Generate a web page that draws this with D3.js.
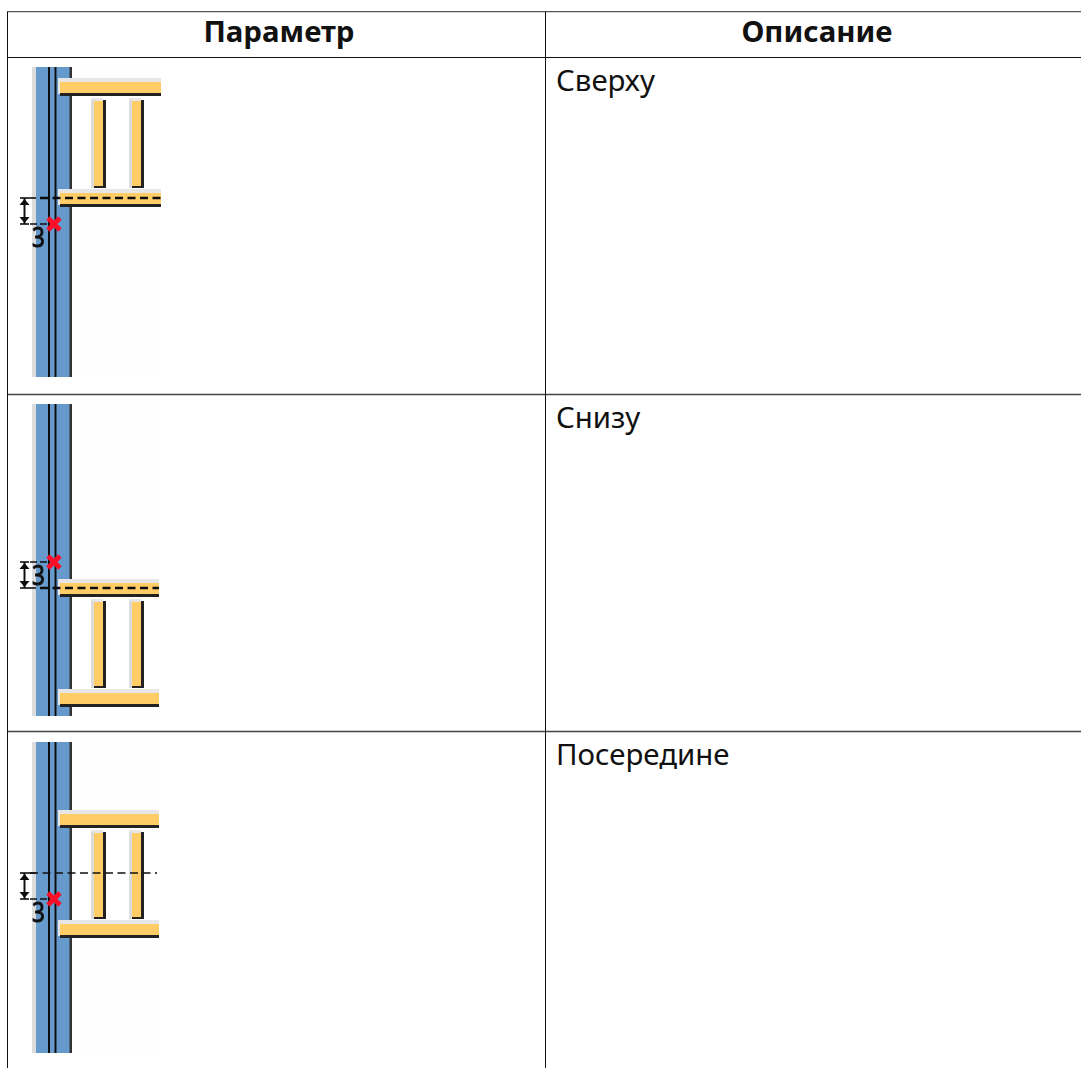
<!DOCTYPE html>
<html>
<head>
<meta charset="utf-8">
<script src="https://d3js.org/d3.v7.min.js"></script>
<style>
html, body { margin: 0; padding: 0; background: #fff; }
svg { display: block; }
text { font-family: "Noto Sans", sans-serif; fill: #111; }
</style>
</head>
<body>
<script>
var headers = ["Параметр", "Описание"];
var rowLabels = ["Сверху", "Снизу", "Посередине"];

// levels, counted from the row's top line
var columnTop = [10, 10, 11];
var columnBottom = [320, 322, 322];
var upperBeam = [25, 189, 83];
var lowerBeam = [136, 299, 193];
var dashLevel = [141, 194, 142];
var markLevel = [167, 168, 168];
var beamEnd = [161, 159, 159];
var dashEnd = [161, 159, 157];
var dashStart = [40, 40, 30];
var dimLabel = ["3", "3", "3"];
var dimLabelLevel = [190, 191, 191];

var width = 1081, height = 1068;
var rowHeight = 337;

var svg = d3.select("body").append("svg")
    .attr("width", width)
    .attr("height", height);

var defs = svg.append("defs");
defs.append("filter").attr("id", "soft")
    .append("feGaussianBlur").attr("stdDeviation", 0.5);

var x = d3.scaleLinear().domain([0, width]).range([0, width]);
var rowScale = d3.scaleBand().domain(d3.range(rowLabels.length))
    .range([57, 57 + rowHeight * rowLabels.length]);

function y(i, v) {
    return rowScale(i) + v;
}

function box(g, x0, x1, y0, y1, fill) {
    g.append("rect")
        .attr("x", x(x0))
        .attr("y", y0)
        .attr("width", x(x1) - x(x0))
        .attr("height", y1 - y0)
        .attr("fill", fill);
}

function hline(g, x0, x1, yy, w, dash) {
    g.append("line")
        .attr("x1", x(x0)).attr("x2", x(x1))
        .attr("y1", yy).attr("y2", yy)
        .attr("stroke", "#111")
        .attr("stroke-width", w)
        .attr("stroke-dasharray", dash || null);
}

function vline(g, xx, y0, y1, w) {
    g.append("line")
        .attr("x1", x(xx)).attr("x2", x(xx))
        .attr("y1", y0).attr("y2", y1)
        .attr("stroke", "#111")
        .attr("stroke-width", w);
}

function beam(g, yy, end) {
    box(g, 58, end, yy - 4, yy + 12, "#e6e6e6");
    box(g, 60, end, yy, yy + 11, "#ffcc66");
    box(g, 60, end, yy + 11, yy + 14, "#222");
}

function post(g, x0, top, bottom) {
    box(g, x0 - 3, x0 + 9, top - 2, top + 1, "#e6e6e6");
    box(g, x0 - 3, x0, top, bottom, "#dcdcdc");
    box(g, x0, x0 + 9, top + 1, bottom, "#ffcc66");
    box(g, x0 + 9, x0 + 12, top, bottom, "#222");
    box(g, x0, x0 + 12, bottom - 2, bottom, "#222");
}

function sketch(i) {
    var g = svg.append("g").attr("filter", "url(#soft)");
    var top = y(i, columnTop[i]), bottom = y(i, columnBottom[i]);

    box(g, 32, 160, top, bottom, "#fefefe");

    // column
    box(g, 32, 36, top, bottom, "#dcdcdc");
    box(g, 36, 72, top, bottom, "#6699cc");
    box(g, 69.5, 72, top, bottom, "#333");
    vline(g, 49, top, bottom, 2);
    vline(g, 55.5, top, bottom, 2);

    // white bay between the beams
    var ub = y(i, upperBeam[i]), lb = y(i, lowerBeam[i]);
    box(g, 72, beamEnd[i], ub, lb, "#fff");

    post(g, 94, ub + 18, lb - 5);
    post(g, 132, ub + 18, lb - 5);
    beam(g, ub, beamEnd[i]);
    beam(g, lb, beamEnd[i]);

    // dimension
    var dy = y(i, dashLevel[i]), my = y(i, markLevel[i]);
    var up = Math.min(dy, my), down = Math.max(dy, my);
    hline(g, 20, 29, up, 1.6);
    hline(g, 20, 29, down, 1.6);
    vline(g, 24.5, up, down, 2);
    g.append("path")
        .attr("d", "M" + x(24.5) + "," + (up + 1) + "l-5,6h10z M" + x(24.5) + "," + (down - 1) + "l-5,-6h10z")
        .attr("fill", "#111");
    hline(g, 29, 36, dy, 1.6);
    hline(g, dashStart[i], dashEnd[i], dy, i == 2 ? 1.6 : 2.3, "8 4.5");
    hline(g, 30, 48, my, 1.6, "7 3");

    // red cross on the reference point
    g.append("path")
        .attr("d", "M" + x(48) + "," + (my - 6) + "l12,12 M" + x(60) + "," + (my - 6) + "l-12,12")
        .attr("stroke", "#ff0a28")
        .attr("stroke-width", 4.6)
        .attr("fill", "none");

    g.append("text")
        .text(dimLabel[i])
        .attr("x", 0)
        .attr("y", y(i, dimLabelLevel[i]))
        .attr("text-anchor", "middle")
        .attr("font-size", "28px")
        .attr("stroke", "#111")
        .attr("stroke-width", 1)
        .attr("transform", "translate(" + x(38.5) + ",0) scale(0.8,1)");
}

rowLabels.forEach(function(d, i) {
    sketch(i);
});

// table rules
var rules = svg.append("g");
rules.append("line").attr("x1", 7).attr("x2", width).attr("y1", 11.7).attr("y2", 11.7)
    .attr("stroke", "#555").attr("stroke-width", 1.3);
rules.selectAll("line.row")
    .data(d3.range(rowLabels.length))
    .enter().append("line")
    .attr("class", "row")
    .attr("x1", 7).attr("x2", width)
    .attr("y1", function(d) { return rowScale(d) + 0.5; })
    .attr("y2", function(d) { return rowScale(d) + 0.5; })
    .attr("stroke", function(d) { return d == 0 ? "#111" : "#444"; })
    .attr("stroke-width", function(d) { return d == 0 ? 1 : 1.4; });
rules.selectAll("line.col")
    .data([7.5, 545.5])
    .enter().append("line")
    .attr("class", "col")
    .attr("x1", function(d) { return d; })
    .attr("x2", function(d) { return d; })
    .attr("y1", 12).attr("y2", height)
    .attr("stroke", "#111");

svg.selectAll("text.head")
    .data(headers)
    .enter().append("text")
    .attr("class", "head")
    .text(function(d) { return d; })
    .attr("x", function(d, i) { return [279, 817][i]; })
    .attr("y", 42)
    .attr("text-anchor", "middle")
    .attr("font-size", "29.4px")
    .attr("font-weight", "bold");

svg.selectAll("text.desc")
    .data(rowLabels)
    .enter().append("text")
    .attr("class", "desc")
    .text(function(d) { return d; })
    .attr("x", 556)
    .attr("y", function(d, i) { return rowScale(i) + 34; })
    .attr("font-size", "29.4px");
</script>
</body>
</html>
